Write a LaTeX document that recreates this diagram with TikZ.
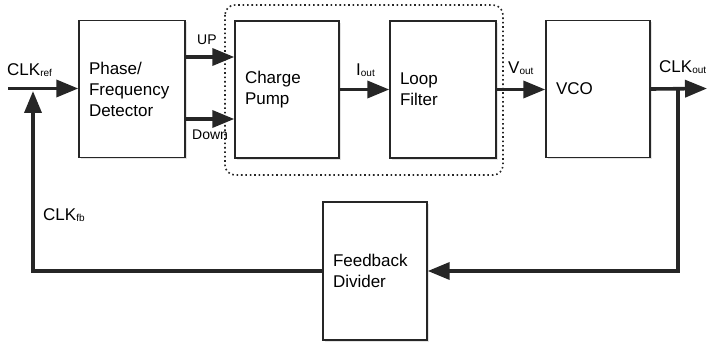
\documentclass[tikz,border=0pt]{standalone}
\usepackage{fontspec}
\setmainfont{Liberation Sans}
\usetikzlibrary{arrows.meta,shadows,positioning}

\newcommand{\sbs}[1]{{\fontsize{10}{10}\selectfont\raisebox{-1.5pt}{#1}}}

\tikzset{
  blk/.style={draw=black!85, line width=1.4pt, fill=white, rectangle,
    align=left, inner xsep=10pt, inner ysep=0pt,
    font=\fontsize{17}{21}\selectfont,
    drop shadow={opacity=0.22, shadow xshift=2pt, shadow yshift=-2pt}},
  sig/.style={line width=3.6pt, draw=black!85,
    -{Triangle[length=22pt,width=17pt]}},
  wire/.style={line width=3.6pt, draw=black!85},
  lbl/.style={inner sep=0pt, anchor=west, font=\fontsize{17}{21}\selectfont},
  slbl/.style={inner sep=0pt, anchor=west, font=\fontsize{14}{16}\selectfont},
  group/.style={draw=black!85, line width=1.6pt, rounded corners=10pt,
    dash pattern=on 1.6pt off 2.8pt},
}

\begin{document}
\begin{tikzpicture}[x=1pt,y=-1pt]
  \useasboundingbox (0,0) rectangle (707,347);

  % grouping of charge pump and loop filter
  \draw[group] (225,5) rectangle (503,175);

  % blocks
  \node[blk, minimum width=106pt, minimum height=137pt, text width=86pt]
    (pfd) at (132,89) {Phase/\\Frequency\\Detector};
  \node[blk, minimum width=104pt, minimum height=137pt, text width=84pt]
    (cp) at (287,89.5) {Charge\\Pump};
  \node[blk, minimum width=106pt, minimum height=137pt, text width=86pt]
    (lf) at (443,89.5) {Loop\\Filter};
  \node[blk, minimum width=104pt, minimum height=137pt, text width=84pt]
    (vco) at (598,89) {VCO};
  \node[blk, minimum width=104pt, minimum height=138pt, text width=84pt]
    (fd) at (375,271) {Feedback\\Divider};

  % loose ends of the signal path
  \coordinate (in) at (8,88.5);
  \coordinate (out) at (707,88.5);
  \coordinate (tap) at (678,88.5);
  \coordinate (fbtip) at (33,91);

  % forward path
  \draw[sig] (in) -- (in -| pfd.west);
  \draw[sig] ([yshift=32pt]pfd.east) -- ([yshift=32pt]pfd.east -| cp.west);
  \draw[sig] ([yshift=-30pt]pfd.east) -- ([yshift=-30pt]pfd.east -| cp.west);
  \draw[sig] (cp.east) -- (lf.west);
  \draw[sig] (lf.east) -- (lf.east -| vco.west);
  \draw[sig] (vco.east) -- (out);

  % feedback path
  \draw[sig] (tap) |- (fd.east);
  \draw[sig] (fd.west) -| (fbtip);

  % signal labels
  \node[lbl] (lref) at (7,70) {CLK\sbs{ref}};
  \node[slbl] (lup) at (197,40) {UP};
  \node[slbl] (ldn) at (192,135) {Down};
  \node[lbl] (liout) at (356,70) {I\sbs{out}};
  \node[lbl] (lvout) at (508,68) {V\sbs{out}};
  \node[lbl] (lout) at (659,67) {CLK\sbs{out}};
  \node[lbl] (lfb) at (43,215) {CLK\sbs{fb}};
\end{tikzpicture}
\end{document}
